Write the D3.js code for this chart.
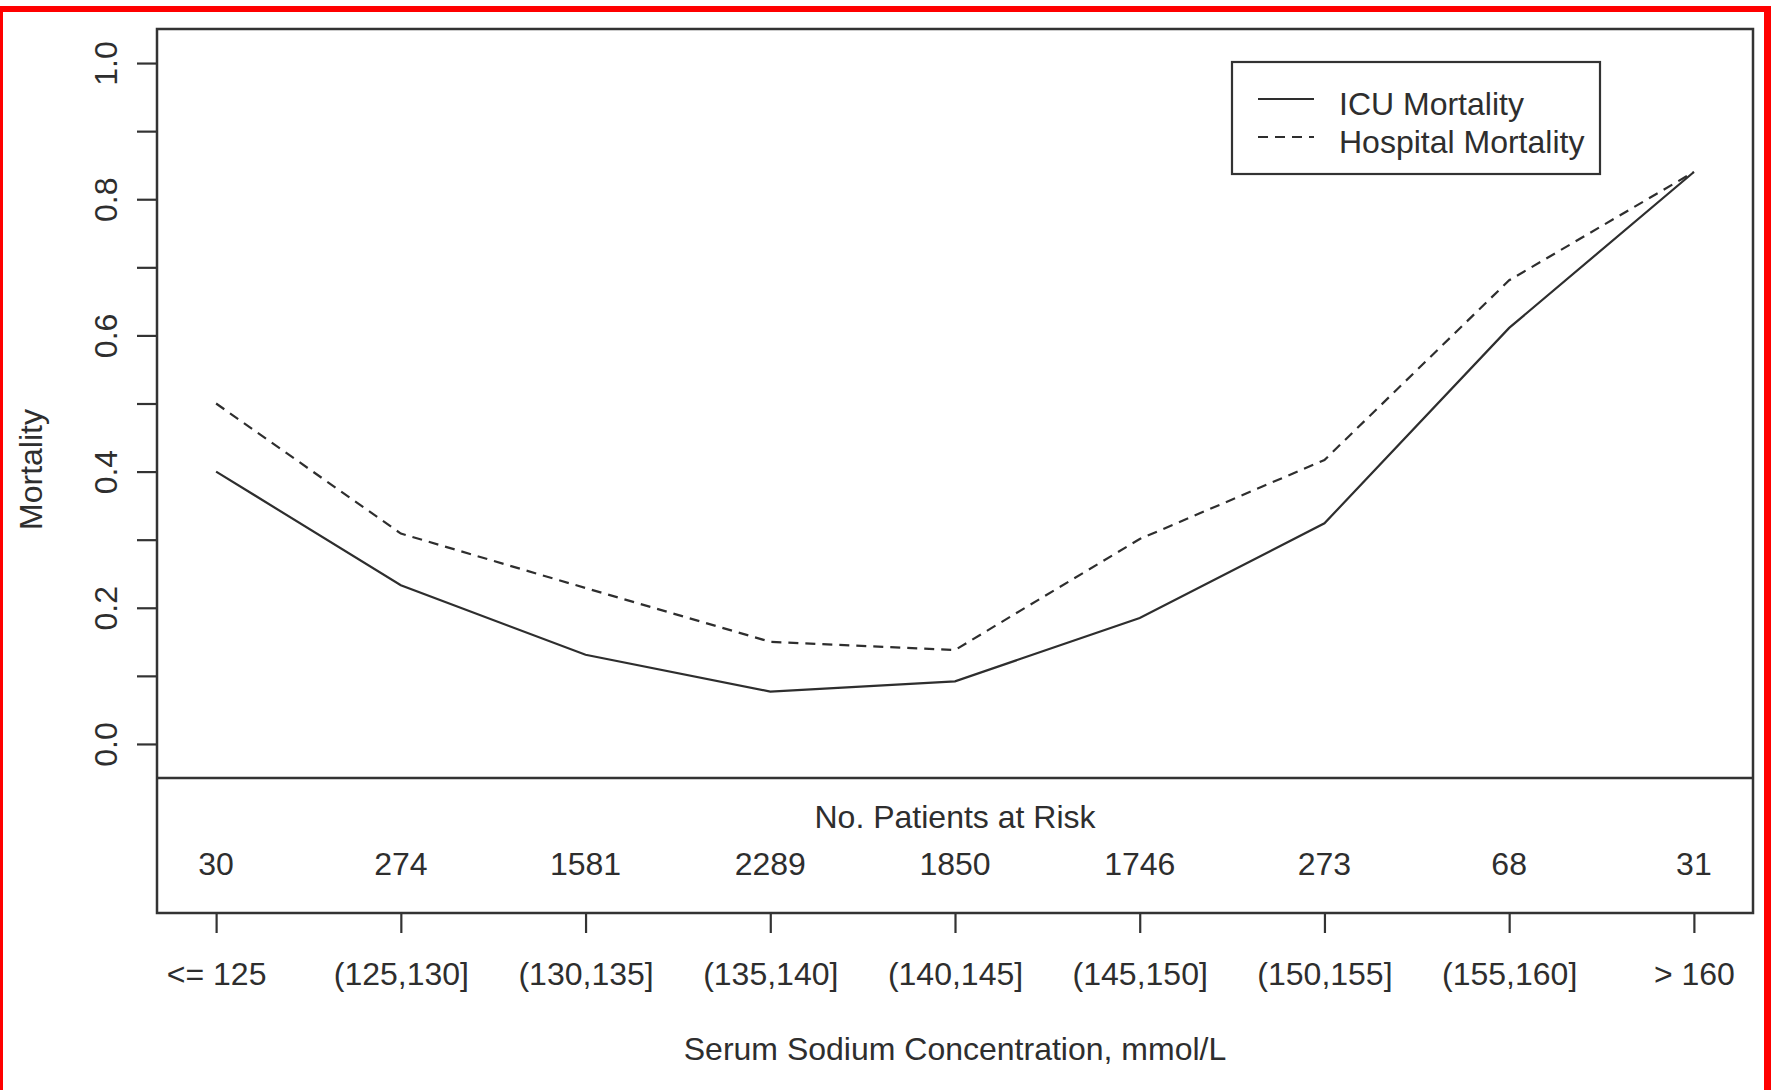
<!DOCTYPE html>
<html>
<head>
<meta charset="utf-8">
<script src="https://cdn.jsdelivr.net/npm/d3@7"></script>
<style>
  html, body { margin: 0; padding: 0; background: #fff; }
  svg { display: block; font-family: "Liberation Sans", Arial, sans-serif; }
  text { fill: #2e2e2e; }
</style>
</head>
<body>
<div id="chart"></div>
<script>
// sodium bands, patients at risk and mortality
const categories = ['<= 125', '(125,130]', '(130,135]', '(135,140]', '(140,145]',
  '(145,150]', '(150,155]', '(155,160]', '> 160'];
const patientsAtRisk = [30, 274, 1581, 2289, 1850, 1746, 273, 68, 31];
const icuMortality = [0.40, 0.233, 0.131, 0.077, 0.092, 0.185, 0.324, 0.611, 0.84];
const hospitalMortality = [0.50, 0.309, 0.229, 0.150, 0.138, 0.301, 0.417, 0.681, 0.84];
const yTicks = [0, 0.1, 0.2, 0.3, 0.4, 0.5, 0.6, 0.7, 0.8, 0.9, 1.0];

const width = 1771;
const height = 1090;
const frame = { left: 157, right: 1753, top: 29, split: 778, bottom: 913 };
const ink = '#2e2e2e';
const dash = '10,7';

const svg = d3.select('#chart')
  .append('svg')
  .attr('width', width)
  .attr('height', height);

svg.append('rect').attr('width', width).attr('height', height).attr('fill', '#fff');

const x = d3.scalePoint()
  .domain(categories)
  .range([frame.left, frame.right])
  .padding(0.32);

const y = d3.scaleLinear()
  .domain([-0.05, 1.05])
  .range([frame.split, frame.top]);

// y axis: every 0.1, labels on the even ones, turned sideways like R
const yAxis = svg.append('g')
  .attr('transform', `translate(${frame.left},0)`)
  .call(d3.axisLeft(y)
    .tickValues(yTicks)
    .tickSize(20)
    .tickFormat((d, i) => i % 2 === 0 ? d3.format('.1f')(d) : ''));
yAxis.select('.domain').remove();
yAxis.selectAll('line').attr('stroke', '#333').attr('stroke-width', 2.2);
yAxis.selectAll('text')
  .attr('transform', 'rotate(-90)')
  .attr('x', 0)
  .attr('y', -40)
  .attr('dy', 0)
  .attr('text-anchor', 'middle')
  .attr('font-size', 32)
  .attr('fill', ink);

// x axis under the risk table
const xAxis = svg.append('g')
  .attr('transform', `translate(0,${frame.bottom})`)
  .call(d3.axisBottom(x).tickSize(20));
xAxis.select('.domain').remove();
xAxis.selectAll('line').attr('stroke', '#333').attr('stroke-width', 2.2);
xAxis.selectAll('text')
  .attr('y', 72)
  .attr('dy', 0)
  .attr('font-size', 32)
  .attr('fill', ink);

// frame and divider
svg.append('rect')
  .attr('x', frame.left)
  .attr('y', frame.top)
  .attr('width', frame.right - frame.left)
  .attr('height', frame.bottom - frame.top)
  .attr('fill', 'none')
  .attr('stroke', '#333')
  .attr('stroke-width', 2.5);
svg.append('line')
  .attr('x1', frame.left).attr('x2', frame.right)
  .attr('y1', frame.split).attr('y2', frame.split)
  .attr('stroke', '#333')
  .attr('stroke-width', 2.5);

// lines
const line = d3.line()
  .x((d, i) => x(categories[i]))
  .y(d => y(d));

svg.append('path')
  .datum(icuMortality)
  .attr('d', line)
  .attr('fill', 'none')
  .attr('stroke', ink)
  .attr('stroke-width', 2.2);

svg.append('path')
  .datum(hospitalMortality)
  .attr('d', line)
  .attr('fill', 'none')
  .attr('stroke', ink)
  .attr('stroke-width', 2.2)
  .attr('stroke-dasharray', dash);

// risk table
svg.append('text')
  .attr('x', (frame.left + frame.right) / 2)
  .attr('y', 828)
  .attr('text-anchor', 'middle')
  .attr('font-size', 32)
  .text('No. Patients at Risk');

svg.append('g')
  .selectAll('text')
  .data(patientsAtRisk)
  .join('text')
  .attr('x', (d, i) => x(categories[i]))
  .attr('y', 875)
  .attr('text-anchor', 'middle')
  .attr('font-size', 32)
  .text(d => d);

// axis titles
svg.append('text')
  .attr('x', (frame.left + frame.right) / 2)
  .attr('y', 1060)
  .attr('text-anchor', 'middle')
  .attr('font-size', 32)
  .text('Serum Sodium Concentration, mmol/L');

svg.append('text')
  .attr('transform', `translate(42,${(y(0) + y(1)) / 2 + 66}) rotate(-90)`)
  .attr('text-anchor', 'middle')
  .attr('font-size', 32)
  .text('Mortality');

// legend
const legend = svg.append('g').attr('transform', 'translate(1232,62)');
legend.append('rect')
  .attr('width', 368)
  .attr('height', 112)
  .attr('fill', '#fff')
  .attr('stroke', '#333')
  .attr('stroke-width', 2.2);
const legendItems = [
  { name: 'ICU Mortality', dash: null },
  { name: 'Hospital Mortality', dash: dash }
];
const row = legend.selectAll('g')
  .data(legendItems)
  .join('g')
  .attr('transform', (d, i) => `translate(0,${37 + i * 38})`);
row.append('line')
  .attr('x1', 26).attr('x2', 82)
  .attr('stroke', ink)
  .attr('stroke-width', 2.2)
  .attr('stroke-dasharray', d => d.dash);
row.append('text')
  .attr('x', 107)
  .attr('y', 16)
  .attr('font-size', 32)
  .text(d => d.name);

// red outline around the figure
svg.append('rect').attr('x', 0).attr('y', 6).attr('width', width).attr('height', 6).attr('fill', '#f00');
svg.append('rect').attr('x', 0).attr('y', 6).attr('width', 3).attr('height', height - 6).attr('fill', '#f00');
svg.append('rect').attr('x', 1764).attr('y', 6).attr('width', 7).attr('height', height - 6).attr('fill', '#f00');
</script>
</body>
</html>
